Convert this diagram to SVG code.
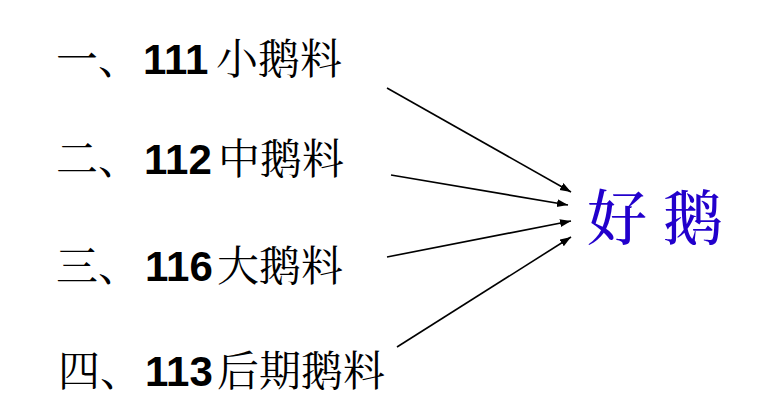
<svg xmlns="http://www.w3.org/2000/svg" width="783" height="418" viewBox="0 0 783 418">
<style>
.cjk{font-family:"Noto Serif CJK SC","Noto Sans CJK SC",serif;font-size:42px;fill:#000;}
.num{font-family:"Liberation Sans",Arial,sans-serif;font-weight:bold;font-size:42px;fill:#000;}
.goal{font-family:"Noto Serif CJK SC","Noto Sans CJK SC",serif;font-size:60px;font-weight:500;fill:#2200CC;}
.conn{stroke:#000;stroke-width:1.6;fill:none;marker-end:url(#ah);}
</style>
<defs>
<marker id="ah" markerUnits="userSpaceOnUse" markerWidth="12" markerHeight="10" refX="11" refY="4" orient="auto">
<path d="M0,0 L11,4 L0,8 Z" fill="#000"/>
</marker>
</defs>
<rect width="783" height="418" fill="#fff"/>
<g id="node1">
<text class="cjk" x="56" y="74">一、</text>
<text class="num" x="143" y="74">111</text>
<text class="cjk" x="216" y="74">小鹅料</text>
</g>
<g id="node2">
<text class="cjk" x="56" y="174">二、</text>
<text class="num" x="144" y="174">112</text>
<text class="cjk" x="218" y="174">中鹅料</text>
</g>
<g id="node3">
<text class="cjk" x="56" y="281">三、</text>
<text class="num" x="145" y="281">116</text>
<text class="cjk" x="217" y="281">大鹅料</text>
</g>
<g id="node4">
<text class="cjk" x="58" y="386">四、</text>
<text class="num" x="145" y="386">113</text>
<text class="cjk" x="217" y="386">后期鹅料</text>
</g>
<g id="goal">
<text class="goal" x="587" y="240">好</text>
<text class="goal" x="663" y="240">鹅</text>
</g>
<g id="connectors">
<line class="conn" x1="387" y1="88" x2="571" y2="192"/>
<line class="conn" x1="391" y1="175" x2="568" y2="205"/>
<line class="conn" x1="387" y1="257" x2="571" y2="221"/>
<line class="conn" x1="397" y1="347" x2="571" y2="237"/>
</g>
</svg>
